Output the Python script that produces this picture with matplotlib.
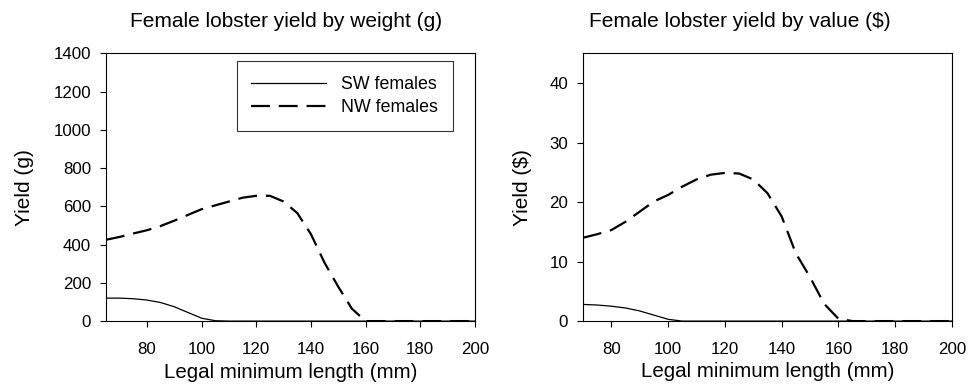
import matplotlib
matplotlib.use('Agg')
import matplotlib.pyplot as plt

plt.rcParams['font.family'] = ['Liberation Sans', 'DejaVu Sans']

# yield by weight (g)
length_w = [65, 70, 75, 80, 85, 90, 95, 100, 105, 110, 115, 120, 125, 130, 135,
            140, 145, 150, 155, 160, 170, 180, 190, 200]
nw_weight = [425, 440, 458, 475, 497, 525, 555, 585, 605, 625, 645, 655, 655, 625, 565,
             455, 305, 180, 65, 0, 0, 0, 0, 0]
sw_weight = [120, 120, 117, 110, 97, 75, 45, 15, 2, 0, 0, 0, 0, 0, 0,
             0, 0, 0, 0, 0, 0, 0, 0, 0]

# yield by value ($)
length_v = [70, 75, 80, 85, 90, 95, 100, 105, 110, 115, 120, 125, 130, 135,
            140, 145, 150, 155, 160, 165, 170, 180, 190, 200]
nw_value = [14.0, 14.6, 15.3, 16.7, 18.4, 20.1, 21.2, 22.6, 23.8, 24.6, 24.9, 24.8, 23.8, 21.5,
            17.6, 11.4, 7.4, 2.9, 0.4, 0, 0, 0, 0, 0]
sw_value = [2.8, 2.7, 2.5, 2.2, 1.7, 1.0, 0.3, 0, 0, 0, 0, 0, 0, 0,
            0, 0, 0, 0, 0, 0, 0, 0, 0, 0]

xticks = [80, 100, 120, 140, 160, 180, 200]
dash = (0, (8.5, 4))

fig = plt.figure(figsize=(9.68, 3.85), dpi=100)
ax1 = fig.add_axes([0.1095, 0.166, 0.381, 0.6956])
ax2 = fig.add_axes([0.6023, 0.166, 0.381, 0.6956])

ax1.plot(length_w, sw_weight, color='black', lw=0.9, label='SW females')
ax1.plot(length_w, nw_weight, color='black', lw=1.6, linestyle=dash, label='NW females')
ax1.set_xlim(65, 200)
ax1.set_ylim(0, 1400)
ax1.set_xticks(xticks)
ax1.set_yticks(range(0, 1401, 200))
ax1.set_ylabel('Yield (g)', fontsize=15)
ax1.set_xlabel('Legal minimum length (mm)', fontsize=14.8)
ax1.yaxis.set_label_coords(-0.195, 0.5)
ax1.xaxis.set_label_coords(0.5, -0.158)
leg = ax1.legend(loc='upper right', fontsize=12.8, handlelength=4.2, handletextpad=0.85,
                 frameon=True, fancybox=False, edgecolor='black', borderpad=0.82,
                 labelspacing=0.36, borderaxespad=0, bbox_to_anchor=(0.94, 0.97))
leg.get_frame().set_linewidth(0.8)

ax2.plot(length_v, sw_value, color='black', lw=0.9)
ax2.plot(length_v, nw_value, color='black', lw=1.6, linestyle=dash)
ax2.set_xlim(70, 200)
ax2.set_ylim(0, 45)
ax2.set_xticks(xticks)
ax2.set_yticks([0, 10, 20, 30, 40])
ax2.set_ylabel('Yield ($)', fontsize=15)
ax2.set_xlabel('Legal minimum length (mm)', fontsize=14.8)
ax2.yaxis.set_label_coords(-0.138, 0.5)
ax2.xaxis.set_label_coords(0.5, -0.153)

for ax in (ax1, ax2):
    ax.tick_params(direction='out', length=4.2, width=0.8, labelsize=12.2, top=False, right=False)
    ax.tick_params(axis='x', pad=11)
    ax.tick_params(axis='y', pad=6.5)
    for s in ax.spines.values():
        s.set_linewidth(0.8)

fig.text(0.2955, 0.943, 'Female lobster yield by weight (g)', ha='center', va='center', fontsize=15)
fig.text(0.7645, 0.943, 'Female lobster yield by value ($)', ha='center', va='center', fontsize=15)

fig.savefig('out.png', dpi=100)
